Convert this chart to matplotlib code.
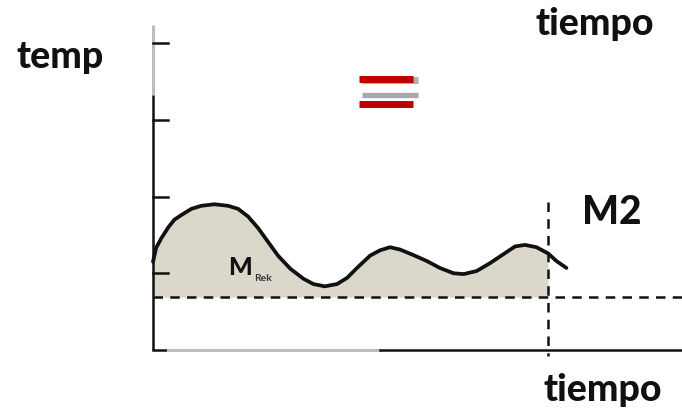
import matplotlib
matplotlib.use("Agg")
import matplotlib.pyplot as plt
import numpy as np

plt.rcParams['font.family'] = ['Lato', 'DejaVu Sans']

# curve (time, temperature in tick units)
t = [0.00, 0.04, 0.11, 0.20, 0.28, 0.37, 0.50, 0.63, 0.80, 0.98, 1.11,
     1.24, 1.37, 1.50, 1.63, 1.79, 1.96, 2.09, 2.24, 2.40, 2.53, 2.66,
     2.83, 2.96, 3.09, 3.22, 3.39, 3.57, 3.74, 3.92, 4.05, 4.22, 4.39,
     4.57, 4.72, 4.85, 5.00, 5.15, 5.26, 5.39]
temp = [1.15, 1.33, 1.46, 1.60, 1.70, 1.76, 1.84, 1.88, 1.90, 1.88, 1.84,
        1.74, 1.59, 1.41, 1.23, 1.06, 0.93, 0.86, 0.83, 0.86, 0.94, 1.07,
        1.23, 1.30, 1.34, 1.31, 1.24, 1.16, 1.07, 1.00, 0.99, 1.03, 1.13,
        1.25, 1.35, 1.37, 1.34, 1.26, 1.16, 1.07]
base = 0.69
t_cut = 5.15
yticks = [1, 2, 3, 4]

px = 76.7
fig = plt.figure(figsize=(6.82, 4.12), dpi=100)
ax = fig.add_axes([0, 0, 1, 1])
ax.set_xlim(-153 / px, 529 / px)
ax.set_ylim(-62 / px, 350 / px)
ax.axis('off')

t = np.array(t)
temp = np.array(temp)

# shaded area under curve
ax.fill_between(t, temp, base, where=t <= t_cut + 1e-9, color='#dbd7cb', lw=0)

# axes
ax.plot([0, 0], [4.24, 3.32], color='#bdbdbd', lw=2.2, solid_capstyle='butt')
ax.plot([0, 0], [3.32, 0], color='#111111', lw=1.8, solid_capstyle='butt')
for y in yticks:
    ax.plot([0, 0.2], [y, y], color='#111111', lw=1.8)
ax.plot([0, 0.2], [0, 0], color='#111111', lw=1.8)
ax.plot([0.2, 2.96], [0, 0], color='#bdbdbd', lw=2.2)
ax.plot([2.96, 6.9], [0, 0], color='#111111', lw=1.8)

# dashed reference lines
ax.plot([0, 6.9], [base, base], color='#111111', lw=1.8, dashes=(3.8, 2.9))
ax.plot([t_cut, t_cut], [1.93, -0.08], color='#111111', lw=1.8, dashes=(3.8, 2.9))

# curve
ax.plot(t, temp, color='#111111', lw=2.7, solid_joinstyle='round',
        solid_capstyle='round')

# equals sign
ax.plot([2.72, 3.46], [3.52, 3.52], color='#b0b0b0', lw=5, solid_capstyle='butt')
ax.plot([2.72, 3.46], [3.33, 3.33], color='#a8a8a8', lw=3.8, solid_capstyle='butt')
ax.plot([2.69, 3.39], [3.53, 3.53], color='#c00000', lw=5, solid_capstyle='butt')
ax.plot([2.69, 3.39], [3.21, 3.21], color='#c00000', lw=5, solid_capstyle='butt')

# labels
kw = dict(fontweight='black', color='#111111', ha='center', va='center')
ax.text(-1.21, 3.82, 'temp', fontsize=27, **kw)
ax.text(5.76, 4.25, 'tiempo', fontsize=27, **kw)
ax.text(5.98, 1.79, 'M2', fontsize=28, **kw)
ax.text(5.87, -0.52, 'tiempo', fontsize=27, **kw)
ax.text(1.13, 1.07, 'M', fontsize=18, **kw)
ax.text(1.44, 0.93, 'Rek', fontsize=7.5, fontweight='bold', color='#3a3a3a',
        ha='center', va='center')

fig.savefig('out.png', dpi=100)
